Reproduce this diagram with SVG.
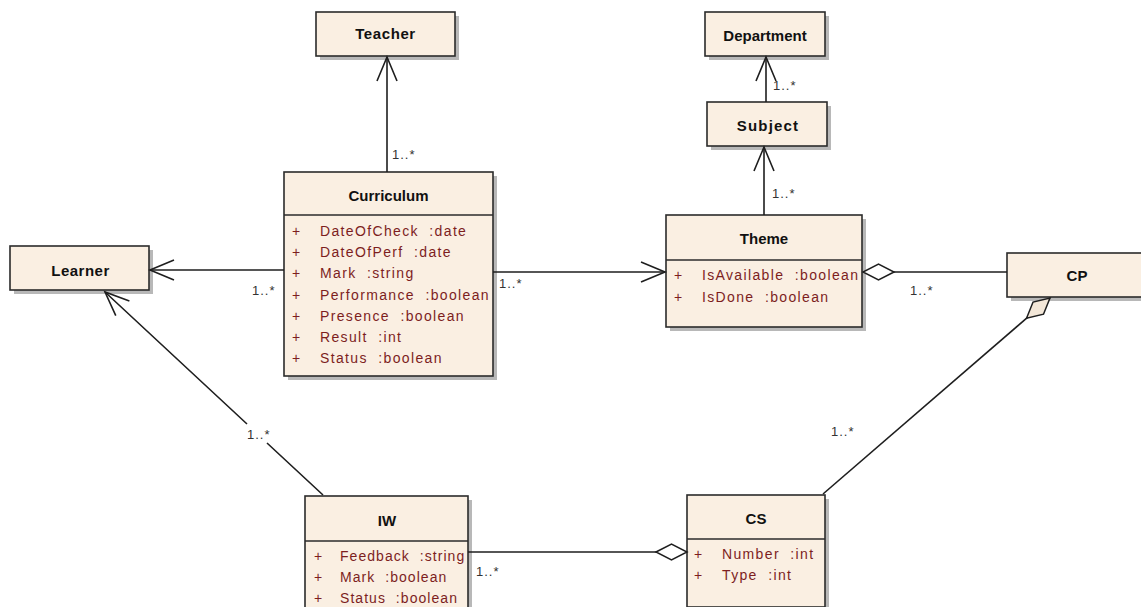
<svg xmlns="http://www.w3.org/2000/svg" width="1141" height="607" viewBox="0 0 1141 607">
<style>
.box{fill:#FAEFE2;stroke:#2b2b2b;stroke-width:1.6}
.sh{fill:#b8b8b8}
.div{stroke:#2b2b2b;stroke-width:1.6}
.name{font-family:"Liberation Sans",Arial,sans-serif;font-weight:bold;font-size:15px;fill:#111;text-anchor:middle}
.att{font-family:"Liberation Sans",Arial,sans-serif;font-size:14px;fill:#7D1E1E;letter-spacing:1.35px;white-space:pre}
.att2{font-family:"Liberation Sans",Arial,sans-serif;font-size:14px;fill:#7D1E1E;letter-spacing:1.05px;white-space:pre}
.mul{font-family:"Liberation Sans",Arial,sans-serif;font-size:13px;fill:#333;letter-spacing:1px}
.c{fill:none;stroke:#1e1e1e;stroke-width:1.6}
</style>
<defs>
<marker id="arr" markerUnits="userSpaceOnUse" markerWidth="30" markerHeight="26" refX="25" refY="11" orient="auto" overflow="visible">
<path d="M1,1 L25,11 L1,21" fill="none" stroke="#1e1e1e" stroke-width="1.6"/>
</marker>
<marker id="dia" markerUnits="userSpaceOnUse" markerWidth="34" markerHeight="20" refX="32" refY="9" orient="auto" overflow="visible">
<path d="M1,9 L16.5,1 L32,9 L16.5,17 Z" fill="#ffffff" stroke="#1e1e1e" stroke-width="1.5"/>
</marker>
<marker id="diab" markerUnits="userSpaceOnUse" markerWidth="34" markerHeight="20" refX="32" refY="9" orient="auto" overflow="visible">
<path d="M1,9 L16.5,1 L32,9 L16.5,17 Z" fill="#F3E7D8" stroke="#1e1e1e" stroke-width="1.5"/>
</marker>
</defs>
<rect width="1141" height="607" fill="#ffffff"/>

<g id="Teacher">
<rect class="sh" x="320" y="16" width="139" height="44"/>
<rect class="box" x="316" y="12" width="139" height="44"/>
<text class="name" x="385.5" y="39" letter-spacing="0.6">Teacher</text>
</g>

<g id="Department">
<rect class="sh" x="709" y="16" width="120" height="44"/>
<rect class="box" x="705" y="12" width="120" height="44"/>
<text class="name" x="765" y="41">Department</text>
</g>

<g id="Subject">
<rect class="sh" x="711" y="106" width="120" height="44"/>
<rect class="box" x="707" y="102" width="120" height="44"/>
<text class="name" x="768" y="131" letter-spacing="1.2">Subject</text>
</g>

<g id="Curriculum">
<rect class="sh" x="288" y="176" width="209" height="204"/>
<rect class="box" x="284" y="172" width="209" height="204"/>
<line class="div" x1="284" y1="215" x2="493" y2="215"/>
<text class="name" x="388.5" y="201">Curriculum</text>
<text class="att" x="292" y="236">+</text><text class="att" x="320" y="236">DateOfCheck  :date</text>
<text class="att" x="292" y="257">+</text><text class="att" x="320" y="257">DateOfPerf  :date</text>
<text class="att" x="292" y="278">+</text><text class="att" x="320" y="278">Mark  :string</text>
<text class="att" x="292" y="300">+</text><text class="att" x="320" y="300">Performance  :boolean</text>
<text class="att" x="292" y="321">+</text><text class="att" x="320" y="321">Presence  :boolean</text>
<text class="att" x="292" y="342">+</text><text class="att" x="320" y="342">Result  :int</text>
<text class="att" x="292" y="363">+</text><text class="att" x="320" y="363">Status  :boolean</text>
</g>

<g id="Learner">
<rect class="sh" x="14" y="250" width="139" height="44"/>
<rect class="box" x="10" y="246" width="139" height="44"/>
<text class="name" x="80.5" y="276" letter-spacing="0.5">Learner</text>
</g>

<g id="Theme">
<rect class="sh" x="670" y="219" width="196" height="112"/>
<rect class="box" x="666" y="215" width="196" height="112"/>
<line class="div" x1="666" y1="260" x2="862" y2="260"/>
<text class="name" x="764" y="244">Theme</text>
<text class="att" x="674" y="280">+</text><text class="att" x="702" y="280">IsAvailable  :boolean</text>
<text class="att" x="674" y="302">+</text><text class="att" x="702" y="302">IsDone  :boolean</text>
</g>

<g id="CP">
<rect class="sh" x="1011" y="257" width="140" height="44"/>
<rect class="box" x="1007" y="253" width="140" height="44"/>
<text class="name" x="1077" y="281">CP</text>
</g>

<g id="IW">
<rect class="sh" x="309" y="500" width="163" height="120"/>
<rect class="box" x="305" y="496" width="163" height="120"/>
<line class="div" x1="305" y1="541" x2="468" y2="541"/>
<text class="name" x="387" y="526">IW</text>
<text class="att2" x="314" y="561">+</text><text class="att2" x="340" y="561">Feedback  :string</text>
<text class="att2" x="314" y="582">+</text><text class="att2" x="340" y="582">Mark  :boolean</text>
<text class="att2" x="314" y="603">+</text><text class="att2" x="340" y="603">Status  :boolean</text>
</g>

<g id="CS">
<rect class="sh" x="691" y="499" width="138" height="112"/>
<rect class="box" x="687" y="495" width="138" height="112"/>
<line class="div" x1="687" y1="539" x2="825" y2="539"/>
<text class="name" x="756" y="524">CS</text>
<text class="att" x="694" y="559">+</text><text class="att" x="722" y="559">Number  :int</text>
<text class="att" x="694" y="580">+</text><text class="att" x="722" y="580">Type  :int</text>
</g>

<g id="connectors">
<line class="c" x1="387" y1="172" x2="387" y2="57" marker-end="url(#arr)"/>
<line class="c" x1="766" y1="102" x2="766" y2="57" marker-end="url(#arr)"/>
<line class="c" x1="764" y1="215" x2="764" y2="147" marker-end="url(#arr)"/>
<line class="c" x1="284" y1="270" x2="150" y2="270" marker-end="url(#arr)"/>
<line class="c" x1="493" y1="272" x2="665" y2="272" marker-end="url(#arr)"/>
<line class="c" x1="1007" y1="272" x2="863" y2="272" marker-end="url(#dia)"/>
<path class="c" d="M323,495 L267,443 M247,424 L105,292" marker-end="url(#arr)"/>
<line class="c" x1="468" y1="552" x2="687" y2="552" marker-end="url(#dia)"/>
<line class="c" x1="823" y1="494" x2="1050" y2="298" marker-end="url(#diab)"/>
<text class="mul" x="392" y="159">1..*</text>
<text class="mul" x="773" y="90">1..*</text>
<text class="mul" x="772" y="198">1..*</text>
<text class="mul" x="252" y="295">1..*</text>
<text class="mul" x="499" y="288">1..*</text>
<text class="mul" x="910" y="295">1..*</text>
<text class="mul" x="247" y="439">1..*</text>
<text class="mul" x="831" y="436">1..*</text>
<text class="mul" x="476" y="576">1..*</text>
</g>
</svg>
